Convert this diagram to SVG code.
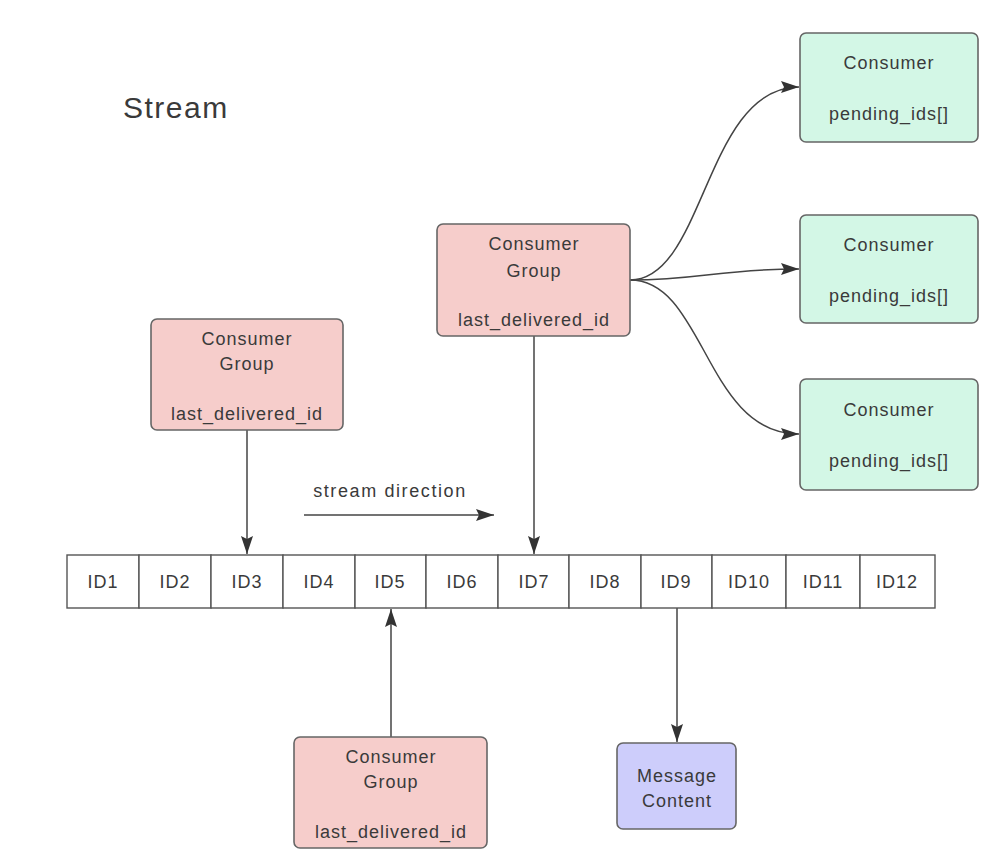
<svg xmlns="http://www.w3.org/2000/svg" width="992" height="864" viewBox="0 0 992 864">
<defs>
<style>
text{font-family:"Liberation Sans","Noto Sans",Arial,sans-serif;fill:#3a3a3a;text-anchor:middle;font-size:18px;letter-spacing:1px}
.cg{fill:#f6cdcb;stroke:#666;stroke-width:1.6}
.co{fill:#d3f7e6;stroke:#666;stroke-width:1.6}
.mc{fill:#cdcdfb;stroke:#666;stroke-width:1.6}
.cell{fill:#fff;stroke:#555;stroke-width:1.4}
.ln{fill:none;stroke:#444;stroke-width:1.5}
</style>
<marker id="ah" viewBox="0 0 18 12" refX="18" refY="6" markerWidth="18" markerHeight="12" markerUnits="userSpaceOnUse" orient="auto">
<path d="M0,0 L18,6 L0,12 L3,6 Z" fill="#333"/>
</marker>
</defs>
<rect width="992" height="864" fill="#fff"/>
<text x="123" y="118" style="text-anchor:start;font-size:30px;letter-spacing:1.5px">Stream</text>

<g id="connectors">
<line class="ln" x1="247" y1="430" x2="247" y2="554" marker-end="url(#ah)"/>
<line class="ln" x1="534" y1="336" x2="534" y2="554" marker-end="url(#ah)"/>
<line class="ln" x1="391" y1="737" x2="391" y2="609" marker-end="url(#ah)"/>
<line class="ln" x1="677" y1="608" x2="677" y2="742" marker-end="url(#ah)"/>
<line class="ln" x1="304" y1="515" x2="494" y2="515" marker-end="url(#ah)"/>
<path class="ln" d="M630,280 C705,280 705,87 799,87" marker-end="url(#ah)"/>
<path class="ln" d="M630,280 C700,280 720,269 799,269" marker-end="url(#ah)"/>
<path class="ln" d="M630,280 C705,280 705,434 799,434" marker-end="url(#ah)"/>
</g>

<g id="stream-direction"><text x="390" y="497" style="letter-spacing:1.6px">stream direction</text></g>

<g id="cg1">
<rect class="cg" x="151" y="319" width="192" height="111" rx="6"/>
<text x="247" y="345">Consumer</text>
<text x="247" y="370">Group</text>
<text x="247" y="420">last_delivered_id</text>
</g>
<g id="cg2">
<rect class="cg" x="437" y="224" width="193" height="112" rx="6"/>
<text x="534" y="250">Consumer</text>
<text x="534" y="277">Group</text>
<text x="534" y="326">last_delivered_id</text>
</g>
<g id="cg3">
<rect class="cg" x="294" y="737" width="193" height="111" rx="6"/>
<text x="391" y="763">Consumer</text>
<text x="391" y="788">Group</text>
<text x="391" y="838">last_delivered_id</text>
</g>
<g id="msg">
<rect class="mc" x="617" y="743" width="119" height="86" rx="6"/>
<text x="677" y="782">Message</text>
<text x="677" y="807">Content</text>
</g>
<g id="consumer1">
<rect class="co" x="800" y="33" width="178" height="109" rx="6"/>
<text x="889" y="69">Consumer</text>
<text x="889" y="120">pending_ids[]</text>
</g>
<g id="consumer2">
<rect class="co" x="800" y="215" width="178" height="108" rx="6"/>
<text x="889" y="251">Consumer</text>
<text x="889" y="302">pending_ids[]</text>
</g>
<g id="consumer3">
<rect class="co" x="800" y="379" width="178" height="111" rx="6"/>
<text x="889" y="416">Consumer</text>
<text x="889" y="467">pending_ids[]</text>
</g>

<g id="ids">
<rect class="cell" x="67" y="555" width="72" height="53"/><text x="103" y="588">ID1</text>
<rect class="cell" x="139" y="555" width="72" height="53"/><text x="175" y="588">ID2</text>
<rect class="cell" x="211" y="555" width="72" height="53"/><text x="247" y="588">ID3</text>
<rect class="cell" x="283" y="555" width="72" height="53"/><text x="319" y="588">ID4</text>
<rect class="cell" x="355" y="555" width="71" height="53"/><text x="390" y="588">ID5</text>
<rect class="cell" x="426" y="555" width="72" height="53"/><text x="462" y="588">ID6</text>
<rect class="cell" x="498" y="555" width="71" height="53"/><text x="534" y="588">ID7</text>
<rect class="cell" x="569" y="555" width="72" height="53"/><text x="605" y="588">ID8</text>
<rect class="cell" x="641" y="555" width="71" height="53"/><text x="676" y="588">ID9</text>
<rect class="cell" x="712" y="555" width="74" height="53"/><text x="749" y="588">ID10</text>
<rect class="cell" x="786" y="555" width="74" height="53"/><text x="823" y="588">ID11</text>
<rect class="cell" x="860" y="555" width="75" height="53"/><text x="897" y="588">ID12</text>
</g>
</svg>
